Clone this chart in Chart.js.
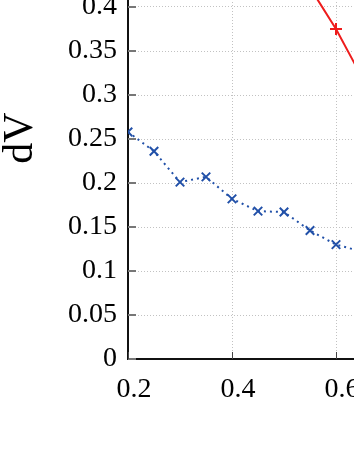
<!DOCTYPE html>
<html>
<head>
<meta charset="utf-8">
<script src="https://cdn.jsdelivr.net/npm/chart.js@4"></script>
<style>
  html, body { margin: 0; padding: 0; background: #fff; }
  #wrap { position: relative; width: 354px; height: 458px; overflow: hidden; }
  #chart { position: absolute; left: 0; top: -60px; }
</style>
</head>
<body>
<div id="wrap"><canvas id="chart" width="460" height="518"></canvas></div>
<script>
// donnees
const blueX = [0.2, 0.25, 0.3, 0.35, 0.4, 0.45, 0.5, 0.55, 0.6, 0.65];
const blueY = [0.258, 0.236, 0.201, 0.207, 0.182, 0.168, 0.167, 0.146, 0.130, 0.122];
const redX = [0.55, 0.6, 0.65];
const redY = [0.422, 0.375, 0.32];
const yTitle = 'dV';

const serif = "'Liberation Serif', 'Times New Roman', serif";

function toPoints(xs, ys) {
  return xs.map((x, i) => ({ x: x, y: ys[i] }));
}

// petits traits vers l'interieur + titre de l'axe y
const innerTicks = {
  id: 'innerTicks',
  afterDraw(chart) {
    const ctx = chart.ctx;
    const area = chart.chartArea;
    const ys = chart.scales.y;
    const xs = chart.scales.x;
    ctx.save();
    ctx.strokeStyle = '#777';
    ctx.lineWidth = 2;
    ys.ticks.forEach((t, i) => {
      const py = ys.getPixelForTick(i);
      ctx.beginPath();
      ctx.moveTo(area.left, py);
      ctx.lineTo(area.left + 8, py);
      ctx.stroke();
    });
    ctx.strokeStyle = '#444';
    ctx.lineWidth = 1;
    xs.ticks.forEach((t, i) => {
      const px = Math.round(xs.getPixelForTick(i)) + 0.5;
      ctx.beginPath();
      ctx.moveTo(px, area.bottom);
      ctx.lineTo(px, area.bottom - 7);
      ctx.stroke();
    });
    ctx.fillStyle = '#000';
    ctx.font = '42px ' + serif;
    ctx.textAlign = 'center';
    ctx.textBaseline = 'middle';
    ctx.translate(21, 198);
    ctx.rotate(-Math.PI / 2);
    ctx.fillText(yTitle, 0, 0);
    ctx.restore();
  }
};

const ctx = document.getElementById('chart').getContext('2d');
new Chart(ctx, {
  type: 'line',
  data: {
    datasets: [{
      data: toPoints(redX, redY),
      borderColor: '#ee1c1c',
      backgroundColor: '#ee1c1c',
      borderWidth: 2,
      pointStyle: 'cross',
      pointRadius: 6,
      pointBorderWidth: 2,
      tension: 0
    }, {
      data: toPoints(blueX, blueY),
      borderColor: '#2150a8',
      backgroundColor: '#2150a8',
      borderWidth: 2,
      borderDash: [2, 4],
      pointStyle: 'crossRot',
      pointRadius: 6,
      pointBorderWidth: 2,
      tension: 0
    }]
  },
  options: {
    responsive: false,
    devicePixelRatio: 1,
    animation: false,
    layout: { padding: { left: 0, top: 23, right: 20, bottom: 0 } },
    plugins: { legend: { display: false }, tooltip: { enabled: false } },
    scales: {
      x: {
        type: 'linear',
        min: 0.2,
        max: 0.8,
        afterFit(scale) {
          scale.height = 99;
          scale.paddingLeft = 0;
          scale.paddingRight = 0;
        },
        ticks: {
          stepSize: 0.2,
          padding: 14,
          labelOffset: 6,
          maxRotation: 0,
          color: '#000',
          font: { family: serif, size: 28 },
          callback: v => String(+v.toFixed(2))
        },
        grid: { color: '#c2c2c2', lineWidth: 1, drawTicks: false },
        border: { color: '#111', width: 2, dash: [1, 2] }
      },
      y: {
        min: 0,
        max: 0.45,
        afterFit(scale) {
          scale.width = 128;
          scale.paddingTop = 0;
          scale.paddingBottom = 0;
        },
        ticks: {
          stepSize: 0.05,
          padding: 11,
          color: '#000',
          font: { family: serif, size: 28 },
          callback: v => String(+v.toFixed(2))
        },
        grid: { color: '#c2c2c2', lineWidth: 1, drawTicks: false },
        border: { color: '#111', width: 2, dash: [1, 2] }
      }
    }
  },
  plugins: [innerTicks]
});
</script>
</body>
</html>
